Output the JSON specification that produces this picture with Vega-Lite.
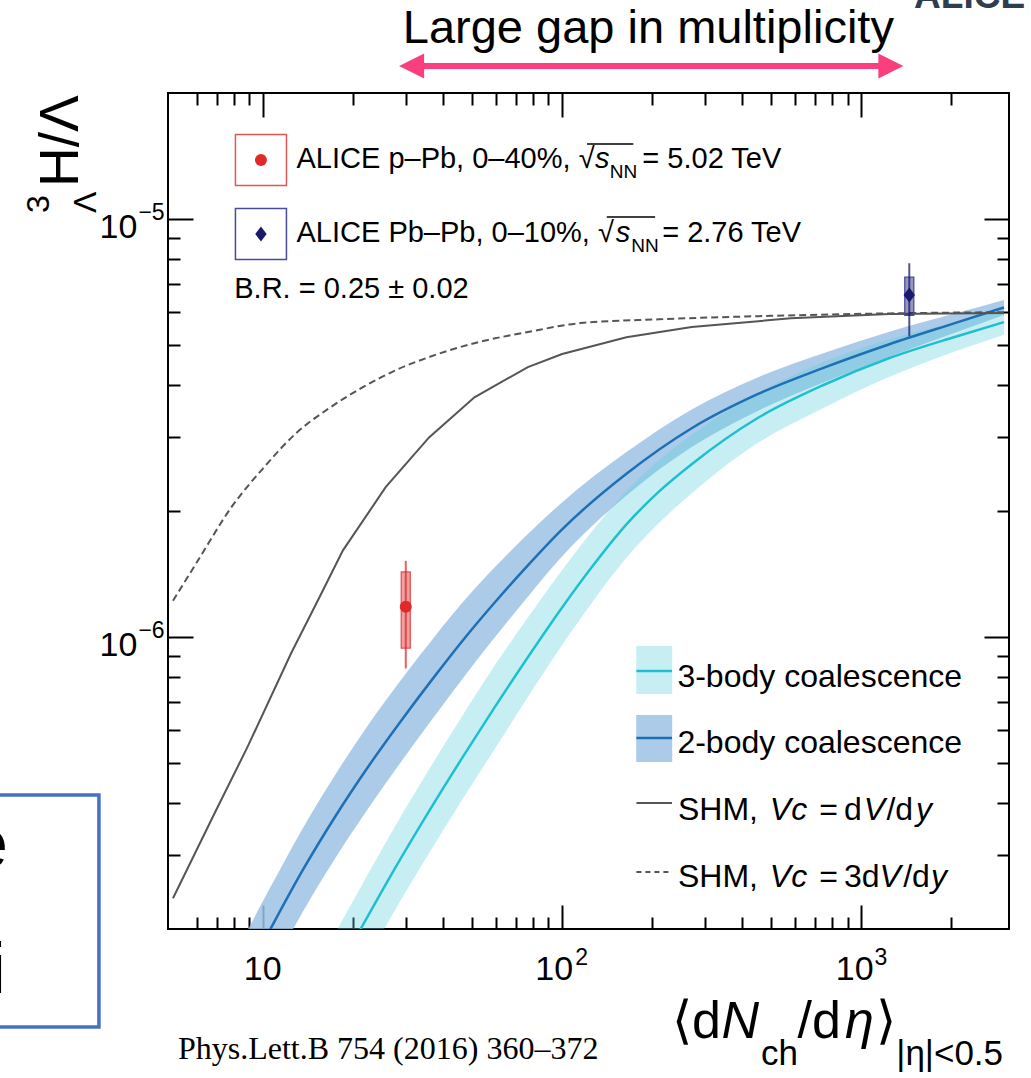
{
  "$schema": "https://vega.github.io/schema/vega-lite/v6.json",
  "width": 841,
  "height": 836,
  "autosize": {"type": "none"},
  "padding": {"left": 168, "top": 93, "right": 22, "bottom": 149},
  "background": "white",
  "config": {
    "font": "Liberation Sans",
    "view": {"stroke": "#000000", "strokeWidth": 2},
    "axis": {"grid": false, "domain": false, "tickColor": "#000000", "tickWidth": 2, "labelColor": "#000000", "labelFont": "Liberation Sans", "zindex": 1}
  },
  "datasets": {
    "c2": [
      {"x": 8.5, "y": 1.488e-7, "lo": 1.182e-7, "hi": 1.873e-7},
      {"x": 10.6, "y": 2.004e-7, "lo": 1.592e-7, "hi": 2.523e-7},
      {"x": 13.6, "y": 2.773e-7, "lo": 2.203e-7, "hi": 3.491e-7},
      {"x": 17.5, "y": 3.733e-7, "lo": 2.965e-7, "hi": 4.7e-7},
      {"x": 22.7, "y": 4.943e-7, "lo": 3.926e-7, "hi": 6.223e-7},
      {"x": 29.2, "y": 6.353e-7, "lo": 5.07e-7, "hi": 7.961e-7},
      {"x": 37.5, "y": 8.054e-7, "lo": 6.471e-7, "hi": 1.0023e-6},
      {"x": 48.6, "y": 1.0186e-6, "lo": 8.279e-7, "hi": 1.2532e-6},
      {"x": 59.3, "y": 1.205e-6, "lo": 9.93e-7, "hi": 1.4622e-6},
      {"x": 76.8, "y": 1.4825e-6, "lo": 1.2474e-6, "hi": 1.762e-6},
      {"x": 98.6, "y": 1.7906e-6, "lo": 1.5417e-6, "hi": 2.0796e-6},
      {"x": 164, "y": 2.455e-6, "lo": 2.178e-6, "hi": 2.767e-6},
      {"x": 271, "y": 3.155e-6, "lo": 2.845e-6, "hi": 3.5e-6},
      {"x": 452, "y": 3.811e-6, "lo": 3.476e-6, "hi": 4.179e-6},
      {"x": 751, "y": 4.406e-6, "lo": 4.065e-6, "hi": 4.776e-6},
      {"x": 1242, "y": 5.012e-6, "lo": 4.678e-6, "hi": 5.37e-6},
      {"x": 2066, "y": 5.636e-6, "lo": 5.345e-6, "hi": 5.943e-6},
      {"x": 3000, "y": 6.138e-6, "lo": 5.889e-6, "hi": 6.398e-6}
    ],
    "c3": [
      {"x": 17, "y": 1.503e-7, "lo": 1.194e-7, "hi": 1.892e-7},
      {"x": 21.2, "y": 2.0e-7, "lo": 1.589e-7, "hi": 2.518e-7},
      {"x": 27.7, "y": 2.805e-7, "lo": 2.228e-7, "hi": 3.531e-7},
      {"x": 35.9, "y": 3.828e-7, "lo": 3.041e-7, "hi": 4.819e-7},
      {"x": 46.1, "y": 5.105e-7, "lo": 4.055e-7, "hi": 6.427e-7},
      {"x": 59.3, "y": 6.761e-7, "lo": 5.37e-7, "hi": 8.511e-7},
      {"x": 76.8, "y": 8.933e-7, "lo": 7.178e-7, "hi": 1.1117e-6},
      {"x": 98.6, "y": 1.159e-6, "lo": 9.42e-7, "hi": 1.426e-6},
      {"x": 127, "y": 1.483e-6, "lo": 1.219e-6, "hi": 1.804e-6},
      {"x": 164, "y": 1.858e-6, "lo": 1.545e-6, "hi": 2.234e-6},
      {"x": 211, "y": 2.228e-6, "lo": 1.875e-6, "hi": 2.648e-6},
      {"x": 271, "y": 2.588e-6, "lo": 2.203e-6, "hi": 3.041e-6},
      {"x": 452, "y": 3.342e-6, "lo": 2.911e-6, "hi": 3.837e-6},
      {"x": 751, "y": 4.009e-6, "lo": 3.532e-6, "hi": 4.55e-6},
      {"x": 1242, "y": 4.645e-6, "lo": 4.188e-6, "hi": 5.152e-6},
      {"x": 2066, "y": 5.224e-6, "lo": 4.82e-6, "hi": 5.662e-6},
      {"x": 3000, "y": 5.662e-6, "lo": 5.284e-6, "hi": 6.067e-6}
    ],
    "shm1": [
      {"x": 5, "y": 2.37e-7}, {"x": 6.88, "y": 3.78e-7}, {"x": 8.85, "y": 5.43e-7},
      {"x": 12.4, "y": 9.12e-7}, {"x": 15.5, "y": 1.25e-6}, {"x": 18.5, "y": 1.61e-6},
      {"x": 25.7, "y": 2.28e-6}, {"x": 35.9, "y": 3.0e-6}, {"x": 50.9, "y": 3.74e-6},
      {"x": 76.8, "y": 4.42e-6}, {"x": 100, "y": 4.75e-6}, {"x": 164, "y": 5.21e-6},
      {"x": 271, "y": 5.51e-6}, {"x": 581, "y": 5.78e-6}, {"x": 1242, "y": 5.92e-6},
      {"x": 3000, "y": 5.95e-6}
    ],
    "shm3": [
      {"x": 5, "y": 1.22e-6}, {"x": 6.05, "y": 1.52e-6}, {"x": 7.83, "y": 2.04e-6},
      {"x": 10.1, "y": 2.55e-6}, {"x": 12.9, "y": 3.07e-6}, {"x": 16.8, "y": 3.54e-6},
      {"x": 21.5, "y": 3.95e-6}, {"x": 27.7, "y": 4.34e-6}, {"x": 35.9, "y": 4.67e-6},
      {"x": 52.5, "y": 5.07e-6}, {"x": 76.8, "y": 5.36e-6}, {"x": 115, "y": 5.63e-6},
      {"x": 211, "y": 5.75e-6}, {"x": 452, "y": 5.85e-6}, {"x": 1242, "y": 5.94e-6},
      {"x": 3000, "y": 5.98e-6}
    ],
    "pts": [
      {"id": "pPb", "x": 30, "y": 1.18e-6, "stat_lo": 8.4e-7, "stat_hi": 1.52e-6, "sys_lo": 9.4e-7, "sys_hi": 1.43e-6},
      {"id": "PbPb", "x": 1447, "y": 6.57e-6, "stat_lo": 5.24e-6, "stat_hi": 7.83e-6, "sys_lo": 5.88e-6, "sys_hi": 7.25e-6}
    ],
    "legpts": [
      {"id": "pPb", "x": 9.84, "y": 1.3822e-5},
      {"id": "PbPb", "x": 9.84, "y": 9.198e-6}
    ],
    "tTick": [
      {"t": "10", "x": 11.54, "y": 1.51e-7},
      {"t": "10", "x": 108.85, "y": 1.51e-7},
      {"t": "10", "x": 1099.0, "y": 1.51e-7},
      {"t": "10", "x": 3.8022, "y": 8.998e-6},
      {"t": "10", "x": 3.8022, "y": 8.998e-7}
    ],
    "tTickS": [
      {"t": "2", "x": 110.5, "y": 1.6398e-7},
      {"t": "3", "x": 1107.4, "y": 1.6398e-7},
      {"t": "−5", "x": 3.8312, "y": 9.936e-6},
      {"t": "−6", "x": 3.8312, "y": 9.936e-7}
    ],
    "tLeg": [
      {"t": "ALICE p–Pb, 0–40%, √", "x": 12.938, "y": 1.3226e-5},
      {"t": "= 5.02 TeV", "x": 185.37, "y": 1.3226e-5},
      {"t": "ALICE Pb–Pb, 0–10%, √", "x": 12.938, "y": 8.801e-6},
      {"t": "= 2.76 TeV", "x": 215.91, "y": 8.801e-6},
      {"t": "B.R. = 0.25 ± 0.02", "x": 8.013, "y": 6.465e-6}
    ],
    "tLegI": [
      {"t": "s", "x": 128.69, "y": 1.3226e-5},
      {"t": "s", "x": 150.97, "y": 8.801e-6}
    ],
    "tSub": [
      {"t": "NN", "x": 144.2, "y": 1.2523e-5},
      {"t": "NN", "x": 170.3, "y": 8.329e-6}
    ],
    "over": [
      {"x": 121.09, "x2": 173.0, "y": 1.51e-5},
      {"x": 141.0, "x2": 204.5, "y": 1.0101e-5}
    ],
    "tLeg2": [
      {"t": "3-body coalescence", "x": 242.8, "y": 7.584e-7},
      {"t": "2-body coalescence", "x": 242.8, "y": 5.273e-7},
      {"t": "SHM,", "x": 243.8, "y": 3.646e-7},
      {"t": "=", "x": 723.4, "y": 3.646e-7},
      {"t": "d", "x": 874.8, "y": 3.646e-7},
      {"t": "/d", "x": 1213.6, "y": 3.646e-7},
      {"t": "SHM,", "x": 243.8, "y": 2.521e-7},
      {"t": "=", "x": 723.4, "y": 2.521e-7},
      {"t": "3d", "x": 874.8, "y": 2.521e-7},
      {"t": "/d", "x": 1380.8, "y": 2.521e-7}
    ],
    "tLeg2I": [
      {"t": "Vc", "x": 494.5, "y": 3.646e-7},
      {"t": "V", "x": 1018.7, "y": 3.646e-7},
      {"t": "y", "x": 1524.6, "y": 3.646e-7},
      {"t": "Vc", "x": 494.5, "y": 2.521e-7},
      {"t": "V", "x": 1150.6, "y": 2.521e-7},
      {"t": "y", "x": 1709.0, "y": 2.521e-7}
    ],
    "tX": [
      {"t": "⟨d", "x": 232.9, "y": 1.0975e-7},
      {"t": "/d", "x": 611.9, "y": 1.0975e-7},
      {"t": "⟩", "x": 1120.0, "y": 1.0975e-7}
    ],
    "tXI": [
      {"t": "N", "x": 340.7, "y": 1.0975e-7},
      {"t": "η", "x": 881.5, "y": 1.0975e-7}
    ],
    "tXS": [
      {"t": "ch", "x": 461.8, "y": 9.455e-8},
      {"t": "|η|<0.5", "x": 1309.3, "y": 9.455e-8}
    ]
  },
  "encoding": {
    "x": {"field": "x", "type": "quantitative", "scale": {"type": "log", "domain": [5, 3000], "nice": false}, "axis": null},
    "y": {"field": "y", "type": "quantitative", "scale": {"type": "log", "domain": [2e-7, 2e-5], "nice": false}, "axis": null}
  },
  "layer": [
    {
      "data": {"name": "shm1"},
      "mark": {"type": "point", "opacity": 0},
      "encoding": {
        "x": {"field": "x", "type": "quantitative", "scale": {"type": "log", "domain": [5, 3000], "nice": false},
          "axis": {"orient": "bottom", "title": null, "values": [10, 100, 1000], "tickSize": -24, "labels": false}},
        "y": {"field": "y", "type": "quantitative", "scale": {"type": "log", "domain": [2e-7, 2e-5], "nice": false},
          "axis": {"orient": "left", "title": null, "values": [1e-6, 1e-5], "tickSize": -25, "labels": false}}
      }
    },
    {
      "data": {"name": "shm1"},
      "mark": {"type": "point", "opacity": 0},
      "encoding": {
        "x": {"field": "x", "type": "quantitative", "scale": {"type": "log", "domain": [5, 3000], "nice": false},
          "axis": {"orient": "bottom", "title": null, "values": [6, 7, 8, 9, 20, 30, 40, 50, 60, 70, 80, 90, 200, 300, 400, 500, 600, 700, 800, 900, 2000], "tickSize": -12, "labels": false}},
        "y": {"field": "y", "type": "quantitative", "scale": {"type": "log", "domain": [2e-7, 2e-5], "nice": false},
          "axis": {"orient": "left", "title": null, "values": [3e-7, 4e-7, 5e-7, 6e-7, 7e-7, 8e-7, 9e-7, 2e-6, 3e-6, 4e-6, 5e-6, 6e-6, 7e-6, 8e-6, 9e-6], "tickSize": -12, "labels": false}}
      }
    },
    {
      "data": {"name": "shm1"},
      "mark": {"type": "point", "opacity": 0},
      "encoding": {
        "x": {"field": "x", "type": "quantitative", "scale": {"type": "log", "domain": [5, 3000], "nice": false},
          "axis": {"orient": "top", "title": null, "values": [10, 100, 1000], "tickSize": -24, "labels": false}},
        "y": {"field": "y", "type": "quantitative", "scale": {"type": "log", "domain": [2e-7, 2e-5], "nice": false},
          "axis": {"orient": "right", "title": null, "values": [1e-6, 1e-5], "tickSize": -25, "labels": false}}
      }
    },
    {
      "data": {"name": "shm1"},
      "mark": {"type": "point", "opacity": 0},
      "encoding": {
        "x": {"field": "x", "type": "quantitative", "scale": {"type": "log", "domain": [5, 3000], "nice": false},
          "axis": {"orient": "top", "title": null, "values": [6, 7, 8, 9, 20, 30, 40, 50, 60, 70, 80, 90, 200, 300, 400, 500, 600, 700, 800, 900, 2000], "tickSize": -12, "labels": false}},
        "y": {"field": "y", "type": "quantitative", "scale": {"type": "log", "domain": [2e-7, 2e-5], "nice": false},
          "axis": {"orient": "right", "title": null, "values": [3e-7, 4e-7, 5e-7, 6e-7, 7e-7, 8e-7, 9e-7, 2e-6, 3e-6, 4e-6, 5e-6, 6e-6, 7e-6, 8e-6, 9e-6], "tickSize": -12, "labels": false}}
      }
    },
    {
      "data": {"name": "c2"},
      "mark": {"type": "area", "clip": true, "color": "#9cc2e5", "opacity": 0.85, "interpolate": "monotone"},
      "encoding": {
        "y": {"field": "lo", "type": "quantitative", "scale": {"type": "log", "domain": [2e-7, 2e-5], "nice": false}, "axis": null},
        "y2": {"field": "hi"}
      }
    },
    {
      "data": {"name": "c3"},
      "mark": {"type": "area", "clip": true, "color": "#5fd0dc", "opacity": 0.35, "interpolate": "monotone"},
      "encoding": {
        "y": {"field": "lo", "type": "quantitative", "scale": {"type": "log", "domain": [2e-7, 2e-5], "nice": false}, "axis": null},
        "y2": {"field": "hi"}
      }
    },
    {
      "data": {"name": "c2"},
      "mark": {"type": "line", "clip": true, "color": "#1f6fb5", "strokeWidth": 2.5, "interpolate": "monotone"}
    },
    {
      "data": {"name": "c3"},
      "mark": {"type": "line", "clip": true, "color": "#1fbfcf", "strokeWidth": 2.5, "interpolate": "monotone"}
    },
    {
      "data": {"name": "shm1"},
      "mark": {"type": "line", "clip": true, "color": "#555555", "strokeWidth": 2}
    },
    {
      "data": {"name": "shm3"},
      "mark": {"type": "line", "clip": true, "color": "#555555", "strokeWidth": 2, "strokeDash": [7, 4], "interpolate": "monotone"}
    },
    {
      "data": {"name": "pts"},
      "mark": {"type": "bar", "size": 9, "orient": "vertical", "fillOpacity": 0.45, "strokeWidth": 1.3},
      "encoding": {
        "y": {"field": "sys_lo", "type": "quantitative", "scale": {"type": "log", "domain": [2e-7, 2e-5], "nice": false}, "axis": null},
        "y2": {"field": "sys_hi"},
        "color": {"field": "id", "type": "nominal", "scale": {"domain": ["pPb", "PbPb"], "range": ["#e02a2a", "#1a1a6b"]}, "legend": null},
        "stroke": {"field": "id", "type": "nominal", "scale": {"domain": ["pPb", "PbPb"], "range": ["#e05555", "#4a4aa0"]}, "legend": null}
      }
    },
    {
      "data": {"name": "pts"},
      "mark": {"type": "rule", "strokeWidth": 2, "opacity": 0.75},
      "encoding": {
        "y": {"field": "stat_lo", "type": "quantitative", "scale": {"type": "log", "domain": [2e-7, 2e-5], "nice": false}, "axis": null},
        "y2": {"field": "stat_hi"},
        "color": {"field": "id", "type": "nominal", "legend": null}
      }
    },
    {
      "data": {"name": "pts"},
      "mark": {"type": "point", "filled": true, "opacity": 1, "size": 144},
      "encoding": {
        "color": {"field": "id", "type": "nominal", "legend": null},
        "shape": {"field": "id", "type": "nominal", "scale": {"domain": ["pPb", "PbPb"], "range": ["circle", "M0,-1.25L0.95,0L0,1.25L-0.95,0Z"]}, "legend": null}
      }
    },
    {
      "data": {"name": "legpts"},
      "mark": {"type": "point", "shape": "square", "filled": false, "size": 2601, "strokeWidth": 1.5, "opacity": 1},
      "encoding": {
        "stroke": {"field": "id", "type": "nominal", "legend": null}
      }
    },
    {
      "data": {"name": "legpts"},
      "mark": {"type": "point", "filled": true, "opacity": 1, "size": 144},
      "encoding": {
        "color": {"field": "id", "type": "nominal", "legend": null},
        "shape": {"field": "id", "type": "nominal", "legend": null}
      }
    },
    {
      "data": {"name": "tTick"},
      "mark": {"type": "text", "align": "right", "baseline": "alphabetic", "font": "Liberation Sans", "fontSize": 34, "color": "#000000"},
      "encoding": {"text": {"field": "t", "type": "nominal"}}
    },
    {
      "data": {"name": "tTickS"},
      "mark": {"type": "text", "align": "left", "baseline": "alphabetic", "font": "Liberation Sans", "fontSize": 23, "color": "#000000"},
      "encoding": {"text": {"field": "t", "type": "nominal"}}
    },
    {
      "data": {"name": "tLeg"},
      "mark": {"type": "text", "align": "left", "baseline": "alphabetic", "font": "Liberation Sans", "fontSize": 29, "color": "#000000"},
      "encoding": {"text": {"field": "t", "type": "nominal"}}
    },
    {
      "data": {"name": "tLegI"},
      "mark": {"type": "text", "align": "left", "baseline": "alphabetic", "font": "Liberation Sans", "fontSize": 29, "fontStyle": "italic", "color": "#000000"},
      "encoding": {"text": {"field": "t", "type": "nominal"}}
    },
    {
      "data": {"name": "tSub"},
      "mark": {"type": "text", "align": "left", "baseline": "alphabetic", "font": "Liberation Sans", "fontSize": 19, "color": "#000000"},
      "encoding": {"text": {"field": "t", "type": "nominal"}}
    },
    {
      "data": {"name": "over"},
      "mark": {"type": "rule", "color": "#000000", "strokeWidth": 1.5},
      "encoding": {"x2": {"field": "x2"}}
    },
    {
      "data": {"values": [{"x": 203.1, "y": 9.507e-7, "y2": 7.297e-7}]},
      "mark": {"type": "bar", "size": 36, "orient": "vertical", "color": "#5fd0dc", "opacity": 0.35},
      "encoding": {"y2": {"field": "y2"}}
    },
    {
      "data": {"values": [{"x": 203.1, "y": 6.501e-7, "y2": 5.019e-7}]},
      "mark": {"type": "bar", "size": 36, "orient": "vertical", "color": "#9cc2e5", "opacity": 0.85},
      "encoding": {"y2": {"field": "y2"}}
    },
    {
      "data": {"values": [{"x": 177.1, "x2": 232.9, "y": 8.286e-7}]},
      "mark": {"type": "rule", "color": "#1fbfcf", "strokeWidth": 2.5},
      "encoding": {"x2": {"field": "x2"}}
    },
    {
      "data": {"values": [{"x": 177.1, "x2": 232.9, "y": 5.727e-7}]},
      "mark": {"type": "rule", "color": "#1f6fb5", "strokeWidth": 2.5},
      "encoding": {"x2": {"field": "x2"}}
    },
    {
      "data": {"values": [{"x": 177.1, "x2": 232.9, "y": 4.003e-7}]},
      "mark": {"type": "rule", "color": "#555555", "strokeWidth": 2},
      "encoding": {"x2": {"field": "x2"}}
    },
    {
      "data": {"values": [{"x": 177.1, "x2": 232.9, "y": 2.738e-7}]},
      "mark": {"type": "rule", "color": "#555555", "strokeWidth": 2, "strokeDash": [5, 4]},
      "encoding": {"x2": {"field": "x2"}}
    },
    {
      "data": {"name": "tLeg2"},
      "mark": {"type": "text", "align": "left", "baseline": "alphabetic", "font": "Liberation Sans", "fontSize": 32, "color": "#000000"},
      "encoding": {"text": {"field": "t", "type": "nominal"}}
    },
    {
      "data": {"name": "tLeg2I"},
      "mark": {"type": "text", "align": "left", "baseline": "alphabetic", "font": "Liberation Sans", "fontSize": 32, "fontStyle": "italic", "color": "#000000"},
      "encoding": {"text": {"field": "t", "type": "nominal"}}
    },
    {
      "data": {"name": "tX"},
      "mark": {"type": "text", "align": "left", "baseline": "alphabetic", "font": "Liberation Sans", "fontSize": 52, "color": "#000000"},
      "encoding": {"text": {"field": "t", "type": "nominal"}}
    },
    {
      "data": {"name": "tXI"},
      "mark": {"type": "text", "align": "left", "baseline": "alphabetic", "font": "Liberation Sans", "fontSize": 52, "fontStyle": "italic", "color": "#000000"},
      "encoding": {"text": {"field": "t", "type": "nominal"}}
    },
    {
      "data": {"name": "tXS"},
      "mark": {"type": "text", "align": "left", "baseline": "alphabetic", "font": "Liberation Sans", "fontSize": 35, "color": "#000000"},
      "encoding": {"text": {"field": "t", "type": "nominal"}}
    },
    {
      "data": {"values": [{"t": "H/Λ", "x": 2.4092, "y": 1.1915e-5}]},
      "mark": {"type": "text", "align": "left", "baseline": "alphabetic", "angle": 270, "font": "Liberation Sans", "fontSize": 55, "color": "#000000"},
      "encoding": {"text": {"field": "t", "type": "nominal"}}
    },
    {
      "data": {"values": [{"t": "3", "x": 1.932, "y": 1.0327e-5}, {"t": "Λ", "x": 2.7633, "y": 1.0327e-5}]},
      "mark": {"type": "text", "align": "left", "baseline": "alphabetic", "angle": 270, "font": "Liberation Sans", "fontSize": 32, "color": "#000000"},
      "encoding": {"text": {"field": "t", "type": "nominal"}}
    },
    {
      "data": {"values": [{"t": "Large gap in multiplicity", "x": 194.1, "y": 2.634e-5}]},
      "mark": {"type": "text", "align": "center", "baseline": "alphabetic", "font": "Liberation Sans", "fontSize": 47, "color": "#000000"},
      "encoding": {"text": {"field": "t", "type": "nominal"}}
    },
    {
      "data": {"values": [{"x": 32.73, "x2": 1195.3, "y": 2.321e-5}]},
      "mark": {"type": "rule", "color": "#fb3f7e", "strokeWidth": 6},
      "encoding": {"x2": {"field": "x2"}}
    },
    {
      "data": {"values": [{"x": 31.39, "y": 2.321e-5}]},
      "mark": {"type": "point", "filled": true, "opacity": 1, "size": 625, "color": "#fb3f7e", "shape": "M-1,0L1,-1L1,1Z"}
    },
    {
      "data": {"values": [{"x": 1255.9, "y": 2.321e-5}]},
      "mark": {"type": "point", "filled": true, "opacity": 1, "size": 625, "color": "#fb3f7e", "shape": "M1,0L-1,-1L-1,1Z"}
    },
    {
      "data": {"values": [{"t": "ALICE", "x": 1501.6, "y": 3.194e-5}]},
      "mark": {"type": "text", "align": "left", "baseline": "alphabetic", "font": "Liberation Sans", "fontWeight": "bold", "fontSize": 37, "color": "#2e3d4f"},
      "encoding": {"text": {"field": "t", "type": "nominal"}}
    },
    {
      "data": {"values": [{"t": "Phys.Lett.B 754 (2016) 360–372", "x": 5.1938, "y": 9.773e-8}]},
      "mark": {"type": "text", "align": "left", "baseline": "alphabetic", "font": "Liberation Serif", "fontSize": 32, "color": "#000000"},
      "encoding": {"text": {"field": "t", "type": "nominal"}}
    },
    {
      "data": {"values": [{"x": 1.291, "x2": 2.8272, "y": 4.183e-7, "y2": 1.1654e-7}]},
      "mark": {"type": "rect", "fill": "transparent", "stroke": "#4472c4", "strokeWidth": 3.5},
      "encoding": {"x2": {"field": "x2"}, "y2": {"field": "y2"}}
    },
    {
      "data": {"values": [{"t": "e", "x": 1.404, "y": 2.799e-7}, {"t": "i", "x": 1.3828, "y": 1.4057e-7}]},
      "mark": {"type": "text", "align": "right", "baseline": "alphabetic", "font": "Liberation Sans", "fontSize": 73, "color": "#000000"},
      "encoding": {"text": {"field": "t", "type": "nominal"}}
    }
  ],
  "resolve": {"axis": {"x": "independent", "y": "independent"}}
}
